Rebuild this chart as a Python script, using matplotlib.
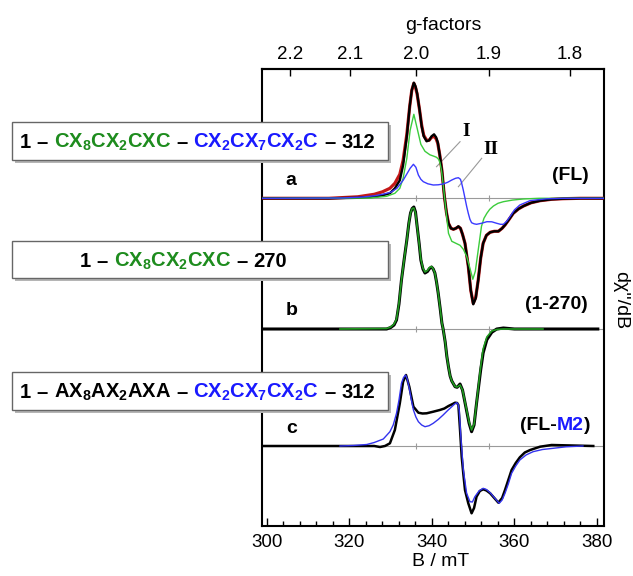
import numpy as np
import matplotlib
matplotlib.use('Agg')
import matplotlib.pyplot as plt
from matplotlib.patches import Rectangle

plt.rcParams['font.family'] = ['Liberation Sans', 'DejaVu Sans']
plt.rcParams['mathtext.default'] = 'regular'

W, H = 633, 576
K_G = 672.1  # h*nu/muB in mT, converts field to g

# ---- trace a (FL): experiment, simulation, components I and II ----
a_B = [298.8, 315, 322, 326, 328, 329.8, 331, 332.2, 333.0, 333.9,
       334.6, 335.1, 335.6, 336.0, 336.4, 337.0, 337.5, 338.0, 338.7, 339.3,
       339.9, 340.5, 341.0, 341.4, 341.9, 342.4, 343.0, 343.5, 344.0, 344.6,
       345.2, 345.8, 346.4, 346.9, 347.4, 348.0, 348.8, 349.4, 350.0, 350.6,
       351.2, 351.8, 352.4, 353.2, 354.1, 355.1, 356.1, 357.0, 357.7, 358.7,
       359.7, 361.0, 362.2, 364.0, 366.2, 369, 371.8, 376, 381.7]
a_exp = [0, 0, 0.5, 1.5, 3, 5, 10, 18, 33, 62,
         92, 108, 115.6, 112, 105, 88, 72, 62, 57, 58,
         62, 64, 61, 56, 43, 28, 2, -14, -25, -30,
         -31, -30, -28, -30, -36, -45, -68, -92, -106, -100,
         -82, -60, -45, -37, -34, -33, -33, -30, -26.7, -21,
         -15, -10.5, -7.7, -4.5, -2.4, -1, -0.4, 0, 0]
a_sim = [0, 0, 1.5, 4, 6.5, 10, 15, 24, 38, 64,
         92, 108, 115, 111, 104, 88, 73, 63, 58, 58,
         61, 62, 59.5, 55, 43, 28, 2, -14, -25, -30,
         -31, -30, -28.5, -30, -36, -45, -68, -92, -105, -99,
         -82, -60, -45, -37, -34, -33, -33, -30, -26.7, -21,
         -15, -10.5, -7.7, -4.5, -2.4, -1, -0.4, 0, 0]

I_B = [298.8, 325, 329, 331, 332.2, 333.0, 333.9, 334.7, 335.6, 336.4,
       337.3, 338.3, 339.5, 340.5, 341.1, 341.6, 341.9, 342.3, 342.6, 343.2,
       344.0, 344.8, 345.8, 346.8, 347.6, 348.4, 349.2, 349.9, 350.5, 351.0,
       351.5, 352.0, 352.6, 353.3, 354.0, 354.9, 356.0, 357.3, 359.5, 362.1,
       366, 381.7]
I_amp = [0, 0.3, 2, 5, 10, 20, 40, 68, 84, 70,
         54, 47, 43.5, 42, 41, 39, 36, 28, 18, -5,
         -35, -43, -45, -47, -51, -58, -70, -81, -73, -58,
         -43, -28, -20, -15, -11, -7.7, -5, -3.4, -1.8, -0.7,
         0, 0]

II_B = [298.8, 318, 323, 326, 328, 330, 331.5, 333.0, 334.0, 334.7,
        335.5, 336.1, 336.7, 337.3, 337.9, 339.0, 340.3, 341.5, 342.7, 343.8,
        344.8, 345.7, 346.4, 346.9, 347.2, 347.6, 348.0, 348.4, 348.8, 349.2,
        349.6, 350.2, 350.8, 352.0, 353.3, 354.5, 355.7, 356.6, 357.3, 358.1,
        358.9, 360.0, 361.3, 363.8, 367.8, 372, 381.7]
II_amp = [0, 0.3, 1.2, 2.5, 4, 6, 10, 18, 25, 30,
          34, 31, 23.3, 19, 16.6, 14.5, 13.3, 13.5, 14.3, 16,
          18.3, 20, 20.6, 19, 15, 8, 0, -8, -15, -21,
          -24.4, -25.5, -26, -25, -23.4, -23.5, -25, -26, -26, -23,
          -18.4, -11.5, -6.7, -2.3, -0.5, 0, 0]

# ---- trace b (1-270) ----
b_B = [298.8, 329.0, 330.0, 330.8, 331.4, 332.0, 332.6, 333.3, 333.9, 334.4,
       334.8, 335.2, 335.6, 336.0, 336.4, 336.9, 337.3, 337.8, 338.3, 338.9,
       339.4, 339.9, 340.3, 340.7, 341.1, 341.5, 342.0, 342.4, 342.7, 343.2,
       343.6, 344.0, 344.4, 344.8, 345.6, 346.1, 346.8, 347.4, 348.2, 349.0,
       349.6, 350.2, 350.8, 351.4, 351.8, 352.4, 353.3, 354.5, 355.7, 357.3,
       360, 380.2]
b_exp = [0, 0, 1.5, 4, 9, 25, 49, 71, 89, 106,
         116, 120.5, 122, 117, 102.6, 85, 69, 60, 56, 57.5,
         60.5, 62, 60, 56, 47, 36, 20, 6, 0, -13,
         -27.4, -38, -47, -52, -57.7, -58.3, -55, -61, -77.7, -94.3,
         -102.7, -96, -74.3, -54.3, -41, -24, -10.7, -3.3, 0, 1,
         0, 0]
b_sim_B = [317.7, 329.0, 330.0, 330.8, 331.4, 332.0, 332.6, 333.3, 333.9, 334.4,
           334.8, 335.2, 335.6, 336.0, 336.4, 336.9, 337.3, 337.8, 338.3, 338.9,
           339.4, 339.9, 340.3, 340.7, 341.1, 341.5, 342.0, 342.4, 342.7, 343.2,
           343.6, 344.0, 344.4, 344.8, 345.6, 346.1, 346.8, 347.4, 348.2, 349.0,
           349.6, 350.2, 350.8, 351.4, 351.8, 352.4, 353.3, 354.5, 355.7, 357.3,
           366.9]
b_sim = [0, 0.5, 2, 5, 10, 26, 49, 71, 89, 106,
         116, 120.5, 121, 116, 102, 85, 70, 61, 57, 58.5,
         61.5, 62.5, 60, 56, 47, 36, 20, 6, 0, -13,
         -27.4, -38, -47, -52, -57.5, -58, -56, -61, -77, -93,
         -101, -95, -74, -52, -38, -20, -8, -2, -0.5, 0,
         0]

# ---- trace c (FL-M2) ----
c_B = [298.8, 326, 327.4, 328.6, 329.8, 331.0, 332.2, 333.0, 333.7, 334.5,
       335.5, 336.7, 337.7, 338.7, 340.3, 341.9, 343.0, 344.0, 345.0, 345.6,
       346.1, 346.4, 346.8, 347.2, 347.6, 348.0, 348.8, 349.6, 350.2, 350.8,
       351.6, 352.4, 353.2, 354.1, 355.1, 356.1, 357.0, 357.7, 359.3, 360.3,
       361.3, 362.5, 363.8, 366.2, 369, 379.1]
c_exp = [0, 0, -1, 0, 2.7, 16, 42.7, 64.3, 71, 59.3,
         39.3, 33.3, 32.5, 32.7, 34.3, 36, 37.5, 40, 42, 43.3,
         43, 41, 16, -10.7, -28, -44, -57.3, -67.3, -62, -50.7,
         -45, -43.3, -44.5, -47.3, -52, -56.7, -52, -44, -24, -17,
         -11.3, -6.5, -4, -0.7, 1, 0]
c_sim_B = [317.7, 321.0, 324.2, 326.0, 328.2, 329.8, 330.6, 331.4, 332.0, 332.6,
           333.1, 333.6, 334.0, 334.5, 335.0, 335.5, 336.1, 336.7, 337.5, 338.3,
           339.3, 340.3, 341.5, 342.7, 343.8, 344.8, 345.5, 346.0, 346.3, 346.6,
           347.0, 347.6, 348.4, 349.2, 349.8, 350.4, 351.4, 352.4, 353.2, 354.1,
           355.2, 356.3, 357.0, 357.7, 358.5, 359.3, 360.3, 361.3, 362.8, 364.5,
           366.8, 369.4, 372.5, 376.6]
c_sim = [0, 0.5, 1.5, 3.5, 7, 14.3, 21, 32.7, 46, 62.7,
         68.5, 71, 67, 57.6, 46, 36, 29, 24.3, 21, 19.3,
         20.3, 22.7, 26.5, 31, 35.5, 39.3, 42, 43.3, 42, 36,
         9, -24, -47.3, -55.7, -56, -50.7, -45, -42.3, -43.5, -46.7,
         -52, -57.3, -54, -47.3, -38, -27.3, -20, -14, -9, -5.7,
         -3.5, -2.3, -0.8, 0]

offsets = [327.7, 197, 80]   # a, b, c
g_ticks = [2.2, 2.1, 2.0, 1.9, 1.8]

GREEN_TXT = '#1e8c1e'
BLUE_TXT = '#1a1aff'

fig = plt.figure(figsize=(W / 100, H / 100), dpi=100)
ax = fig.add_axes([262 / W, 1 - 526 / H, (604 - 262) / W, (526 - 69) / H])

for off in offsets:
    ax.axhline(off, color='#9a9a9a', lw=0.8, zorder=1)
    ax.plot([K_G / 2.0, K_G / 1.9], [off, off], ls='none', marker='|',
            ms=5, mew=0.8, color='#9a9a9a', zorder=1)

oa, ob, oc = offsets
ax.plot(a_B, np.array(a_sim) + oa, color='#c41818', lw=2.3, zorder=3)
ax.plot(a_B, np.array(a_exp) + oa, color='k', lw=1.7, zorder=4)
ax.plot(I_B, np.array(I_amp) + oa, color='#3ccc3c', lw=1.0, zorder=5)
ax.plot(II_B, np.array(II_amp) + oa, color='#3a3aff', lw=1.0, zorder=5)

ax.plot(b_B, np.array(b_exp) + ob, color='k', lw=2.2, zorder=3)
ax.plot(b_sim_B, np.array(b_sim) + ob, color='#1f9a1f', lw=1.2, zorder=4)

ax.plot(c_B, np.array(c_exp) + oc, color='k', lw=1.8, zorder=3)
ax.plot(c_sim_B, np.array(c_sim) + oc, color='#3333ee', lw=1.0, zorder=4)

# component labels
ax.plot([346.8, 341.1], [384.3, 359.3], color='#999999', lw=0.8)
ax.plot([352.05, 346.4], [367.7, 339.3], color='#999999', lw=0.8)
ax.text(348.4, 394.3, 'I', family='Liberation Serif', fontweight='bold',
        fontsize=14, ha='center', va='center')
ax.text(354.3, 376, 'II', family='Liberation Serif', fontweight='bold',
        fontsize=14, ha='center', va='center')

ax.set_xlim(298.79, 381.7)
ax.set_ylim(0, 457)
ax.set_yticks([])
ax.set_xticks(np.arange(300, 381, 20))
ax.set_xticks(np.arange(300, 381, 4), minor=True)
ax.tick_params(axis='x', which='major', direction='in', length=6, width=1,
               labelsize=13.5, pad=6)
ax.tick_params(axis='x', which='minor', direction='in', length=3.5, width=1)
for s in ax.spines.values():
    s.set_linewidth(1.5)

sec = ax.secondary_xaxis('top', functions=(lambda b: K_G / b, lambda g: K_G / g))
sec.set_xticks(g_ticks)
sec.set_xticklabels(['%.1f' % g for g in g_ticks])
sec.tick_params(direction='in', length=5, width=1, labelsize=13.5, pad=4)
sec.spines['top'].set_linewidth(1.5)

fig.text(443 / W, 1 - 25 / H, 'g-factors', fontsize=14, ha='center', va='center')
fig.text(441 / W, 1 - 562 / H, 'B / mT', fontsize=14, ha='center', va='center')
fig.text(621 / W, 1 - 300 / H, "dχ''/dB", fontsize=14, ha='center', va='center',
         rotation=270)

renderer = fig.canvas.get_renderer()


def put_parts(x_px, base_px, parts, fs, align='left', gap=True):
    # parts drawn one after another on a common baseline, a space between them
    sp = 0.278 * fs * 100 / 72 if gap else 0.0
    texts = []
    for s, c in parts:
        t = fig.text(0, 0, s, color=c, fontsize=fs, fontweight='bold',
                     ha='left', va='baseline', zorder=10)
        texts.append(t)
    widths = [t.get_window_extent(renderer=renderer).width for t in texts]
    total = sum(widths) + sp * (len(texts) - 1)
    x = x_px if align == 'left' else x_px - total
    for t, w in zip(texts, widths):
        t.set_position((x / W, 1 - base_px / H))
        x += w + sp


def put_box(x0, y0, x1, y1):
    sh = Rectangle((x0 / W + 3 / W, 1 - (y1 + 3) / H), (x1 - x0) / W, (y1 - y0) / H,
                   transform=fig.transFigure, facecolor='#b5b5b5',
                   edgecolor='none', zorder=8)
    bx = Rectangle((x0 / W, 1 - y1 / H), (x1 - x0) / W, (y1 - y0) / H,
                   transform=fig.transFigure, facecolor='white',
                   edgecolor='#666666', lw=1.0, zorder=9)
    fig.add_artist(sh)
    fig.add_artist(bx)


FS = 14.5
put_box(12, 122, 388, 160)
put_parts(20, 148, [('1', 'k'), ('–', 'k'), ('CX$_8$CX$_2$CXC', GREEN_TXT),
                    ('–', 'k'), ('CX$_2$CX$_7$CX$_2$C', BLUE_TXT),
                    ('–', 'k'), ('312', 'k')], FS)
put_box(12, 241, 388, 278)
put_parts(80, 267, [('1', 'k'), ('–', 'k'), ('CX$_8$CX$_2$CXC', GREEN_TXT),
                    ('–', 'k'), ('270', 'k')], FS)
put_box(12, 372, 388, 410)
put_parts(20, 398, [('1', 'k'), ('–', 'k'), ('AX$_8$AX$_2$AXA', 'k'),
                    ('–', 'k'), ('CX$_2$CX$_7$CX$_2$C', BLUE_TXT),
                    ('–', 'k'), ('312', 'k')], FS)

put_parts(285, 185, [('a', 'k')], 14)
put_parts(286, 315, [('b', 'k')], 14)
put_parts(286, 433, [('c', 'k')], 14)
put_parts(589, 180, [('(FL)', 'k')], 14, align='right')
put_parts(588, 309, [('(1-270)', 'k')], 14, align='right')
put_parts(590, 430, [('(FL-', 'k'), ('M2', BLUE_TXT), (')', 'k')], 14,
          align='right', gap=False)

fig.savefig('out.png', dpi=100)
